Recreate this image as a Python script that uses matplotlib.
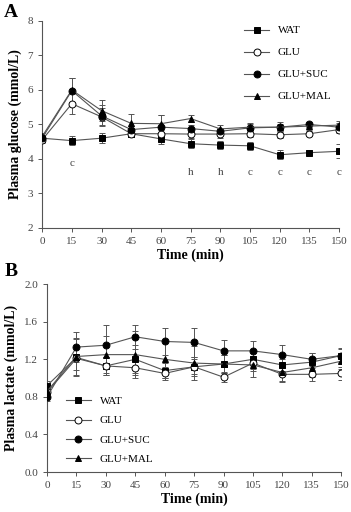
import numpy as np
import matplotlib
matplotlib.use("Agg")
import matplotlib.pyplot as plt

plt.rcParams['font.family'] = ['Liberation Serif', 'DejaVu Serif']

t = [0, 15, 30, 45, 60, 75, 90, 105, 120, 135, 150]
groups = ['WAT', 'GLU', 'GLU+SUC', 'GLU+MAL']

# Panel A: plasma glucose (mmol/L)
glu_wat = [4.60, 4.53, 4.60, 4.73, 4.58, 4.44, 4.40, 4.38, 4.12, 4.18, 4.22]
glu_glu = [4.55, 5.60, 5.22, 4.73, 4.73, 4.72, 4.72, 4.73, 4.70, 4.73, 4.85]
glu_suc = [4.60, 5.98, 5.25, 4.85, 4.92, 4.88, 4.80, 4.90, 4.92, 5.00, 4.92]
glu_mal = [4.65, 6.00, 5.40, 5.03, 5.02, 5.17, 4.87, 4.92, 4.92, 4.95, 4.98]
err_glu_wat = [0.10, 0.13, 0.15, 0.10, 0.15, 0.13, 0.12, 0.12, 0.13, 0.08, 0.20]
err_glu_glu = [0.10, 0.30, 0.25, 0.10, 0.10, 0.10, 0.10, 0.10, 0.10, 0.08, 0.10]
err_glu_suc = [0.10, 0.38, 0.30, 0.10, 0.35, 0.10, 0.10, 0.10, 0.10, 0.08, 0.12]
err_glu_mal = [0.10, 0.35, 0.30, 0.28, 0.25, 0.10, 0.12, 0.12, 0.15, 0.10, 0.12]
sig_t = [15, 75, 90, 105, 120, 135, 150]
sig_lbl = ['c', 'h', 'h', 'c', 'c', 'c', 'c']
sig_y = [3.88, 3.61, 3.61, 3.61, 3.61, 3.61, 3.61]

# Panel B: plasma lactate (mmol/L)
lac_wat = [0.92, 1.22, 1.13, 1.20, 1.08, 1.12, 1.15, 1.20, 1.14, 1.17, 1.24]
lac_glu = [0.85, 1.21, 1.13, 1.11, 1.05, 1.12, 1.01, 1.16, 1.04, 1.04, 1.05]
lac_suc = [0.80, 1.33, 1.35, 1.44, 1.39, 1.38, 1.29, 1.29, 1.25, 1.20, 1.24]
lac_mal = [0.86, 1.23, 1.25, 1.25, 1.20, 1.16, 1.15, 1.14, 1.06, 1.11, 1.18]
err_lac_wat = [0.05, 0.20, 0.10, 0.15, 0.08, 0.08, 0.10, 0.10, 0.06, 0.10, 0.08]
err_lac_glu = [0.05, 0.12, 0.10, 0.08, 0.07, 0.10, 0.05, 0.08, 0.07, 0.07, 0.07]
err_lac_suc = [0.04, 0.16, 0.22, 0.13, 0.14, 0.15, 0.12, 0.11, 0.10, 0.07, 0.07]
err_lac_mal = [0.05, 0.20, 0.20, 0.25, 0.20, 0.18, 0.10, 0.13, 0.10, 0.10, 0.08]

markers = ['s', 'o', 'o', '^']
faces = ['black', 'white', 'black', 'black']
lc = '#555555'
tc = '#444444'

fig = plt.figure(figsize=(3.51, 5.12), dpi=100)
axA = fig.add_axes([0.12, 0.555, 0.846, 0.404])
axB = fig.add_axes([0.134, 0.078, 0.838, 0.367])

def draw(ax, ys, errs):
    for y, e, m, f, g in zip(ys, errs, markers, faces, groups):
        ax.errorbar(t, y, yerr=e, fmt='none', ecolor=lc, elinewidth=0.7,
                    capsize=2.5, capthick=0.7, zorder=2)
        ax.plot(t, y, color=lc, lw=0.8, marker=m, ms=5,
                mfc=f, mec='black', mew=0.7, label=g, zorder=3)
    for s in ['top', 'right']:
        ax.spines[s].set_visible(False)
    for s in ['left', 'bottom']:
        ax.spines[s].set_color(lc)
        ax.spines[s].set_linewidth(0.8)
    ax.set_xlim(0, 150)
    ax.set_xticks(t)
    ax.tick_params(direction='out', length=3, width=0.7, colors=lc,
                   labelcolor=tc, labelsize=8)
    ax.set_xlabel('Time (min)', fontsize=10, fontweight='bold', labelpad=2)

draw(axA, [glu_wat, glu_glu, glu_suc, glu_mal],
     [err_glu_wat, err_glu_glu, err_glu_suc, err_glu_mal])
axA.set_ylim(2, 8)
axA.set_yticks([2, 3, 4, 5, 6, 7, 8])
axA.set_ylabel('Plasma glucose (mmol/L)', fontsize=10, fontweight='bold', labelpad=4)
for x, s, y in zip(sig_t, sig_lbl, sig_y):
    axA.text(x, y, s, ha='center', va='center', fontsize=8, color=tc)
axA.legend(loc='upper right', bbox_to_anchor=(1.0, 1.015), frameon=False,
           fontsize=8, handlelength=2.2, labelspacing=1.1, borderaxespad=0.3)

draw(axB, [lac_wat, lac_glu, lac_suc, lac_mal],
     [err_lac_wat, err_lac_glu, err_lac_suc, err_lac_mal])
axB.set_ylim(0, 2.0)
axB.set_yticks([0.0, 0.4, 0.8, 1.2, 1.6, 2.0])
axB.set_yticklabels(['0.0', '0.4', '0.8', '1.2', '1.6', '2.0'])
axB.set_ylabel('Plasma lactate (mmol/L)', fontsize=10, fontweight='bold', labelpad=4)
axB.legend(loc='lower left', bbox_to_anchor=(0.05, 0.02), frameon=False,
           fontsize=8, handlelength=2.2, labelspacing=0.85, borderaxespad=0)

fig.text(0.012, 0.975, 'A', fontsize=14, fontweight='bold', va='center')
fig.text(0.012, 0.47, 'B', fontsize=14, fontweight='bold', va='center')

fig.savefig('out.png', dpi=100)
